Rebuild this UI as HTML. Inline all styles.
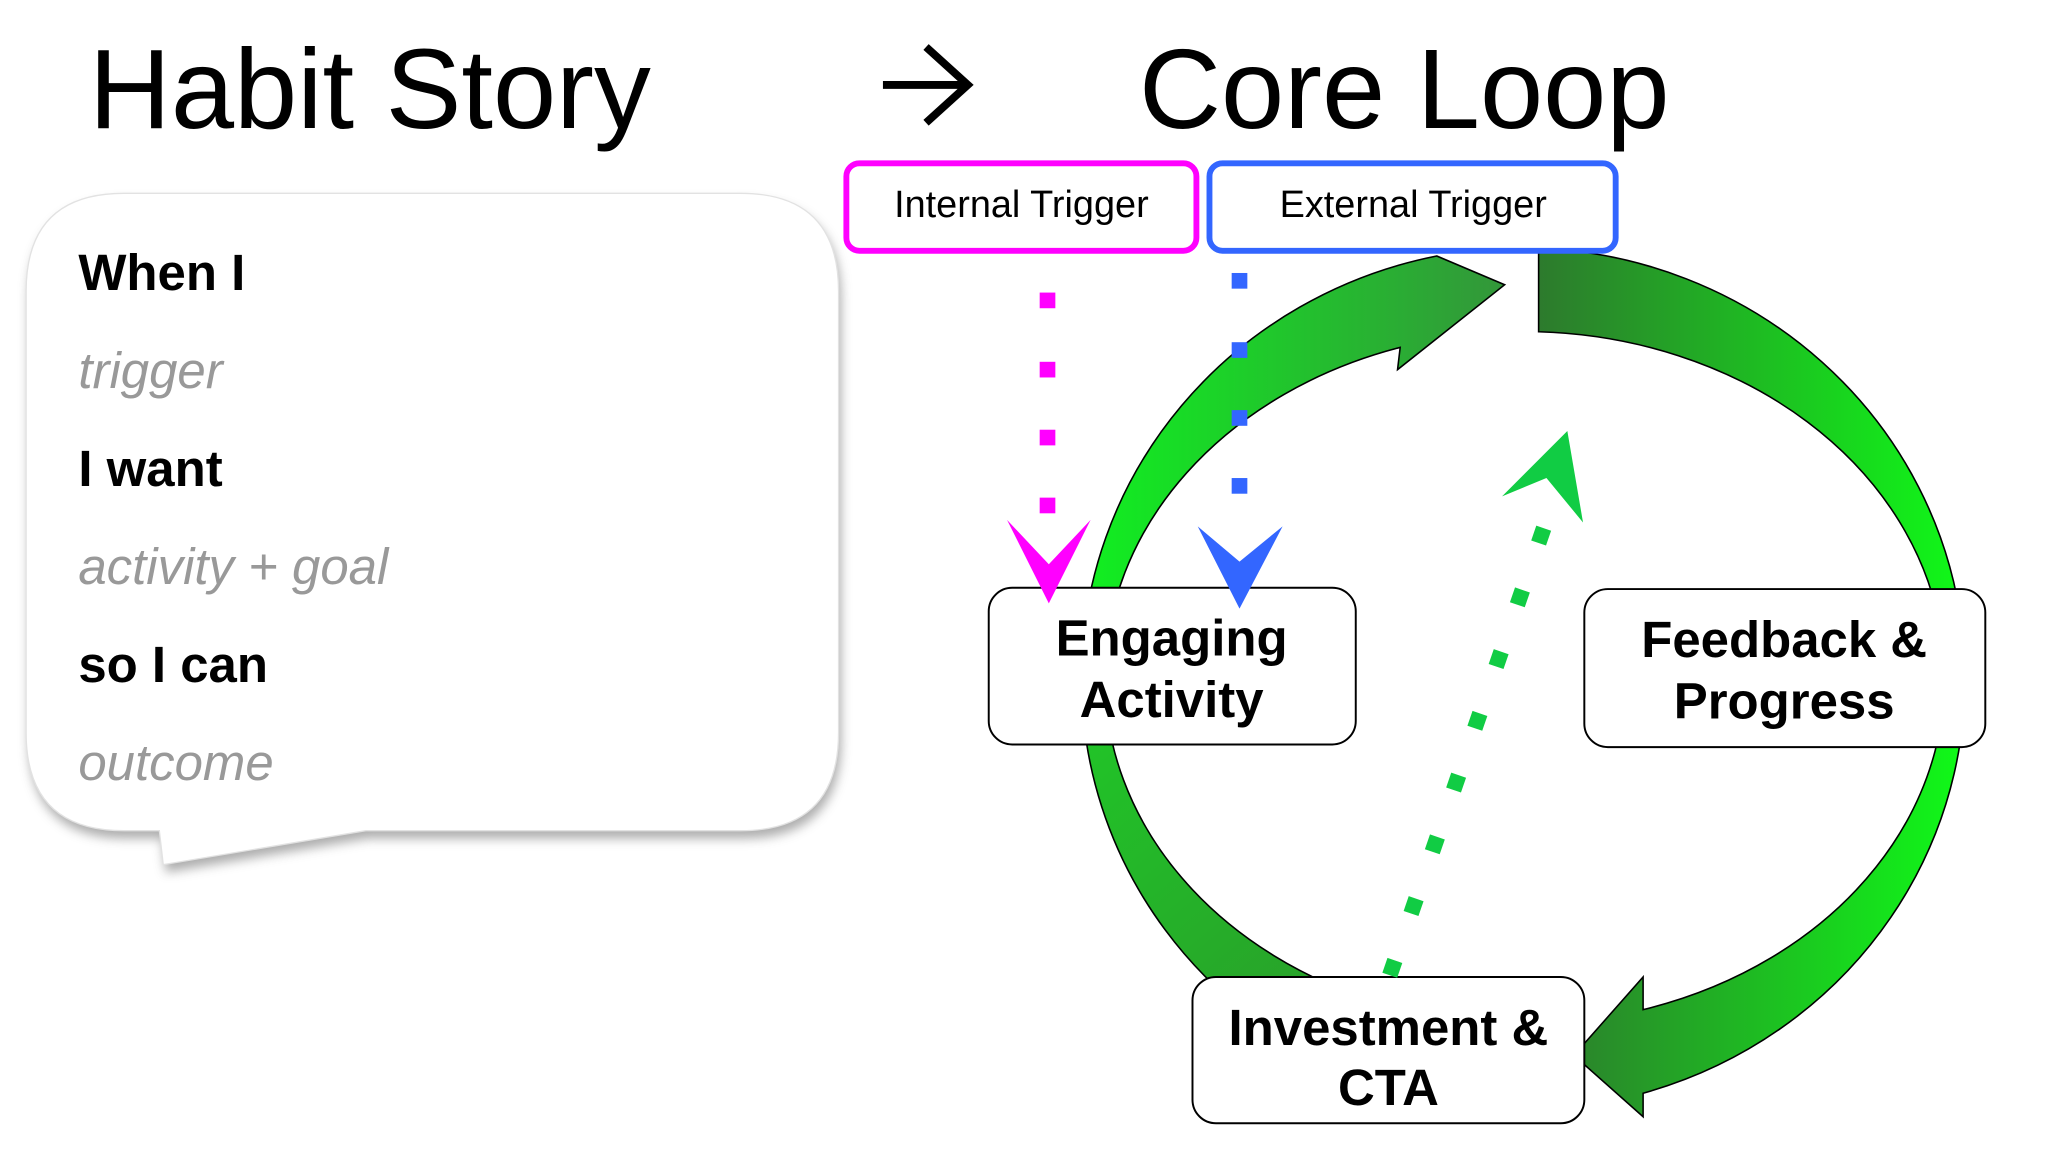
<!DOCTYPE html>
<html><head><meta charset="utf-8"><style>
html,body{margin:0;padding:0;background:#fff;}
svg{display:block;}
</style></head><body>
<svg width="2048" height="1152" viewBox="0 0 1568 882" xmlns="http://www.w3.org/2000/svg" font-family="'Liberation Sans', Arial, sans-serif">
<defs>
<linearGradient id="gL" x1="828" y1="0" x2="1152" y2="0" gradientUnits="userSpaceOnUse">
<stop offset="0" stop-color="#10f020"/><stop offset="1" stop-color="#33963a"/></linearGradient>
<linearGradient id="gLB" x1="828" y1="520" x2="1060" y2="800" gradientUnits="userSpaceOnUse">
<stop offset="0" stop-color="#20c828"/><stop offset="1" stop-color="#2a9a2a"/></linearGradient>
<linearGradient id="gR" x1="1178" y1="0" x2="1500" y2="0" gradientUnits="userSpaceOnUse">
<stop offset="0" stop-color="#2d7a2d"/><stop offset="1" stop-color="#10f818"/></linearGradient>
<filter id="sh" x="-10%" y="-10%" width="120%" height="130%"><feGaussianBlur stdDeviation="4"/></filter>
</defs>

<!-- Titles -->
<text x="68" y="98" font-size="87">Habit Story</text>
<text x="872" y="98" font-size="87">Core Loop</text>
<path d="M676 65 L741 65 M709 36 L741 65 L709 94" fill="none" stroke="#000" stroke-width="6"/>

<!-- Bubble -->
<path d="M95 148 L567 148 Q642 148 642 223 L642 561 Q642 636 567 636 L280 636 L125 662 L122 636 L95 636 Q20 636 20 561 L20 223 Q20 148 95 148 Z" fill="#777" opacity="0.6" transform="translate(2,6)" filter="url(#sh)"/>
<path d="M95 148 L567 148 Q642 148 642 223 L642 561 Q642 636 567 636 L280 636 L125 662 L122 636 L95 636 Q20 636 20 561 L20 223 Q20 148 95 148 Z" fill="#fff" stroke="#e2e2e2" stroke-width="1"/>
<g font-size="39">
<text x="60" y="222" font-weight="bold">When I</text>
<text x="60" y="297" font-style="italic" fill="#999">trigger</text>
<text x="60" y="372" font-weight="bold">I want</text>
<text x="60" y="447" font-style="italic" fill="#999">activity + goal</text>
<text x="60" y="522" font-weight="bold">so I can</text>
<text x="60" y="597" font-style="italic" fill="#999">outcome</text>
</g>

<!-- Ring -->
<path d="M828 519 A340 330 0 0 0 1060 832 L1060 769 A322 265 0 0 1 846 519 Z" fill="url(#gLB)" stroke="#000" stroke-width="1.2"/>
<path d="M828 519 A340 330 0 0 1 1100 196 L1152 218 L1070 283 L1072 266 A322 265 0 0 0 846 519 Z" fill="url(#gL)" stroke="#000" stroke-width="1.2"/>
<path d="M1178 190 A340 330 0 0 1 1258 837 L1258 855 L1205 808 L1258 748 L1258 773 A322 265 0 0 0 1178 254 Z" fill="url(#gR)" stroke="#000" stroke-width="1.2"/>

<!-- Trigger boxes -->
<rect x="648" y="125" width="268" height="67" rx="10" fill="#fff" stroke="#ff00ff" stroke-width="4.5"/>
<text x="782" y="166" font-size="29" text-anchor="middle">Internal Trigger</text>
<rect x="926" y="125" width="311" height="67" rx="10" fill="#fff" stroke="#3366ff" stroke-width="4.5"/>
<text x="1082" y="166" font-size="29" text-anchor="middle">External Trigger</text>

<!-- Node boxes -->
<g font-size="39" font-weight="bold" text-anchor="middle">
<rect x="757" y="450" width="281" height="120" rx="18" fill="#fff" stroke="#000" stroke-width="1.5"/>
<text x="897" y="502">Engaging</text><text x="897" y="549">Activity</text>
<rect x="1213" y="451" width="307" height="121" rx="18" fill="#fff" stroke="#000" stroke-width="1.5"/>
<text x="1366" y="503">Feedback &amp;</text><text x="1366" y="550">Progress</text>
<rect x="913" y="748" width="300" height="112" rx="18" fill="#fff" stroke="#000" stroke-width="1.5"/>
<text x="1063" y="800">Investment &amp;</text><text x="1063" y="846">CTA</text>
</g>

<!-- dotted lines -->
<g fill="#ff00ff">
<rect x="796" y="224" width="12" height="12"/><rect x="796" y="277" width="12" height="12"/><rect x="796" y="329" width="12" height="12"/><rect x="796" y="381" width="12" height="12"/>
<path d="M771 398 L803 432 L835 398 L803 462 Z"/>
</g>
<g fill="#3366ff">
<rect x="943" y="209" width="12" height="12"/><rect x="943" y="262" width="12" height="12"/><rect x="943" y="314" width="12" height="12"/><rect x="943" y="366" width="12" height="12"/>
<path d="M917 403 L949 430 L982 403 L949 466 Z"/>
</g>
<g fill="#11cc44">
<g transform="translate(1066,741) rotate(-71)"><rect x="-6" y="-6" width="12" height="12"/><rect x="44" y="-6" width="12" height="12"/><rect x="94" y="-6" width="12" height="12"/><rect x="144" y="-6" width="12" height="12"/><rect x="194" y="-6" width="12" height="12"/><rect x="244" y="-6" width="12" height="12"/><rect x="294" y="-6" width="12" height="12"/><rect x="344" y="-6" width="12" height="12"/></g>
<path d="M1150 380 L1184 366 L1212 400 L1200 330 Z"/>
</g>
</svg>
</body></html>
